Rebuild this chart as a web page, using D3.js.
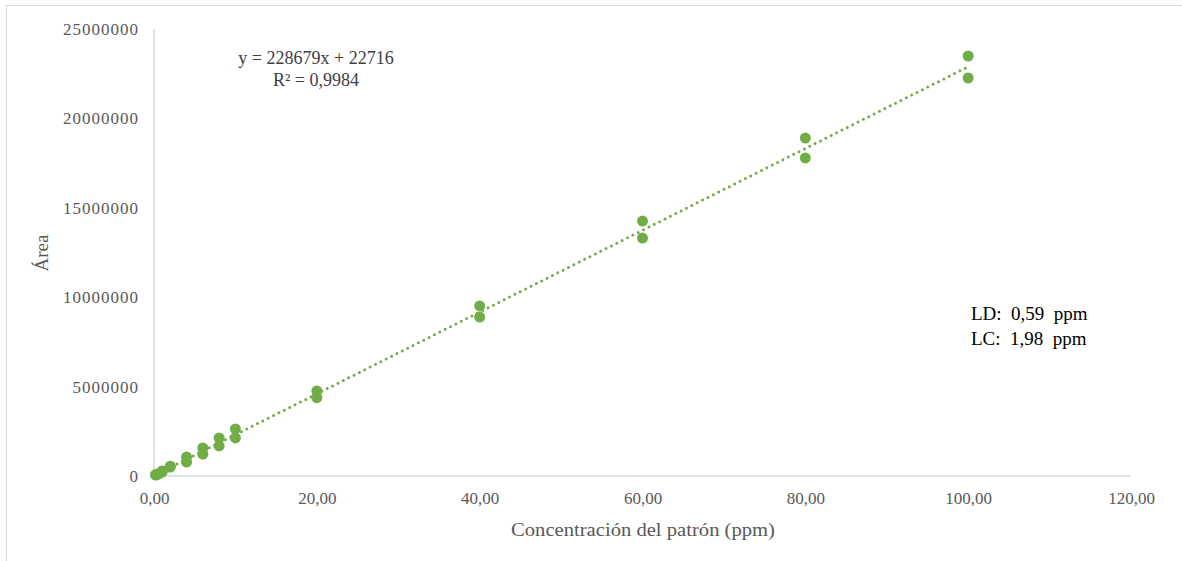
<!DOCTYPE html>
<html>
<head>
<meta charset="utf-8">
<style>
    body{ margin:0; background:#fff; }
    svg text{ font-family:"Liberation Serif","DejaVu Serif",serif !important; }
    .tick text{ fill:#595959; }
    .domain{ stroke:#d9d9d9; stroke-width:1.5; }
    .pts{ fill:#70ad47; }
    .trend{ fill:none; stroke:#70ad47; stroke-width:3; stroke-linecap:round; stroke-dasharray:0,6; }
</style>
</head>
<body>
<script src="https://cdn.jsdelivr.net/npm/d3@7/dist/d3.min.js"></script>
<script>
var width = 1182, height = 561;
var serif = "Liberation Serif, DejaVu Serif, serif";

// concentración (ppm) y área, dos réplicas por nivel
var conc  = [0.2, 0.2, 0.5, 0.5, 1, 1, 2, 2, 4, 4, 6, 6, 8, 8, 10, 10, 20, 20, 40, 40, 60, 60, 80, 80, 100, 100];
var areas = [50000, 80000, 120000, 100000, 280000, 220000, 550000, 500000, 1060000, 780000,
             1570000, 1230000, 2130000, 1680000, 2630000, 2130000, 4750000, 4380000,
             9510000, 8890000, 14260000, 13310000, 18900000, 17790000, 23490000, 22260000];

var slope = 228679, intercept = 22716;
var xTicks = [0, 20, 40, 60, 80, 100, 120];
var yTicks = [0, 5000000, 10000000, 15000000, 20000000, 25000000];

var svg = d3.select("body").append("svg")
    .attr("width", width)
    .attr("height", height);

svg.append("rect")
    .attr("x", 6.5).attr("y", 5.5)
    .attr("width", 1200).attr("height", 600)
    .attr("fill", "none").attr("stroke", "#d9d9d9");

var x = d3.scaleLinear().domain([0, 120]).range([154, 1131]);
var y = d3.scaleLinear().domain([0, 25000000]).range([476, 29]);

var fmtX = function(d){ return d3.format(".2f")(d).replace(".", ","); };

var xAxis = svg.append("g")
    .attr("transform", "translate(0," + y(0) + ")")
    .call(d3.axisBottom(x).tickValues(xTicks).tickFormat(fmtX).tickSize(0).tickPadding(16))
    .attr("font-family", serif).attr("font-size", 17);
xAxis.select(".domain").attr("d", "M" + x(0) + ",0H" + x(120));

var yAxis = svg.append("g")
    .attr("transform", "translate(" + x(0) + ",0)")
    .call(d3.axisLeft(y).tickValues(yTicks).tickFormat(d3.format("d")).tickSize(0).tickPadding(15))
    .attr("font-family", serif).attr("font-size", 17);
yAxis.selectAll(".tick text").attr("letter-spacing", 1);
yAxis.select(".domain").attr("d", "M0," + y(25000000) + "V" + y(0));
yAxis.select(".domain").lower();

// linea de tendencia
var xs = d3.extent(conc);
svg.append("line")
    .attr("class", "trend")
    .attr("x1", x(xs[0])).attr("y1", y(slope * xs[0] + intercept))
    .attr("x2", x(xs[1])).attr("y2", y(slope * xs[1] + intercept));

svg.selectAll(".pts")
    .data(conc)
    .enter().append("circle")
    .attr("class", "pts")
    .attr("cx", function(d){ return x(d); })
    .attr("cy", function(d, i){ return y(areas[i]); })
    .attr("r", 5.5);

// titulos
svg.append("text")
    .attr("x", 643).attr("y", 536)
    .attr("text-anchor", "middle")
    .attr("fill", "#595959").attr("font-size", 19)
    .attr("textLength", 264).attr("lengthAdjust", "spacingAndGlyphs")
    .text("Concentración del patrón (ppm)");

svg.append("text")
    .attr("transform", "translate(48,253) rotate(-90)")
    .attr("text-anchor", "middle")
    .attr("fill", "#595959").attr("font-size", 19)
    .text("Área");

var eq = svg.append("text")
    .attr("text-anchor", "middle")
    .attr("fill", "#404040").attr("font-size", 18);
eq.append("tspan").attr("x", 316).attr("y", 64).text("y = 228679x + 22716");
eq.append("tspan").attr("x", 316).attr("y", 86).text("R² = 0,9984");

var ld = svg.append("text")
    .attr("fill", "#000").attr("font-size", 19);
ld.append("tspan").attr("x", 971).attr("y", 320).attr("xml:space", "preserve").text("LD:  0,59  ppm");
ld.append("tspan").attr("x", 971).attr("y", 345).attr("xml:space", "preserve").text("LC:  1,98  ppm");
</script>
</body>
</html>
